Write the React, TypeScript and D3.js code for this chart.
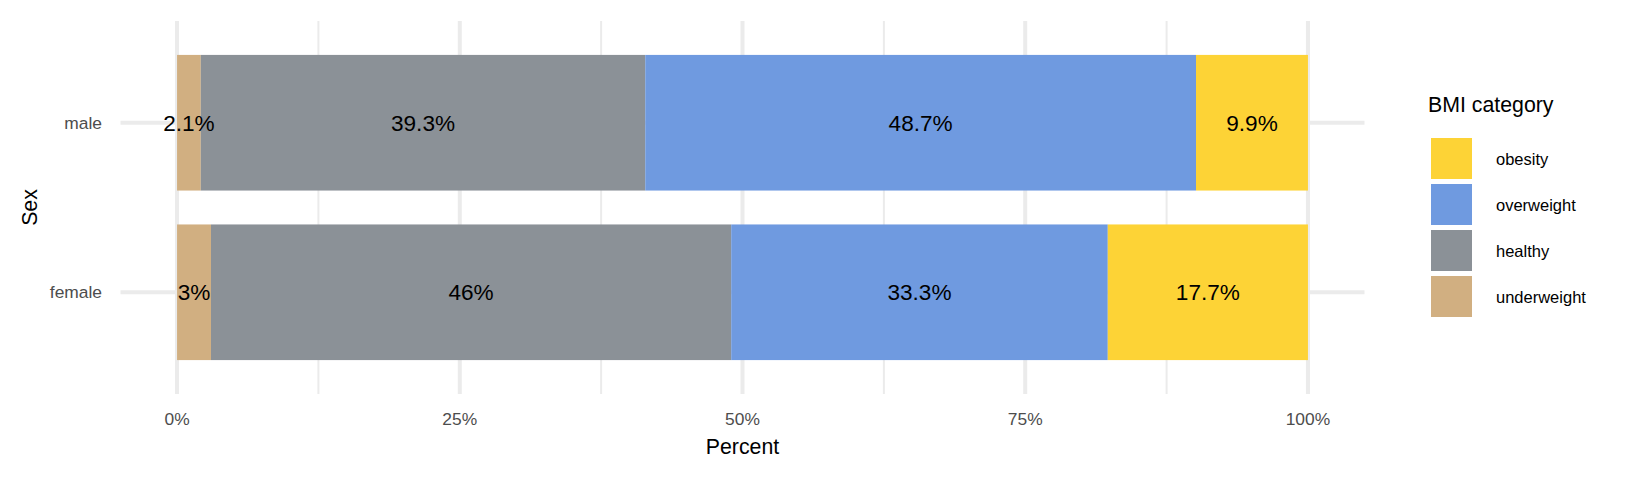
import React from 'react';
import * as d3 from 'd3';

const sexes = ['male', 'female'];
const categories = ['underweight', 'healthy', 'overweight', 'obesity'];
const legendOrder = ['obesity', 'overweight', 'healthy', 'underweight'];
const colors = ['#D1AF81', '#8B9197', '#6F9AE0', '#FDD336'];

const maleValues = [2.1, 39.3, 48.7, 9.9];
const femaleValues = [3, 46, 33.3, 17.7];
const valueLabels = [
  ['2.1%', '39.3%', '48.7%', '9.9%'],
  ['3%', '46%', '33.3%', '17.7%'],
];

const majorTicks = [0, 25, 50, 75, 100];
const minorTicks = [12.5, 37.5, 62.5, 87.5];
const tickLabels = ['0%', '25%', '50%', '75%', '100%'];

const W = 1632;
const H = 480;
const FONT = '"Liberation Sans", Arial, sans-serif';

interface Row {
  sex: string;
  [key: string]: number | string;
}

const rows: Row[] = sexes.map((sex, i) => {
  const vals = i === 0 ? maleValues : femaleValues;
  const r: Row = { sex };
  categories.forEach((c, j) => (r[c] = vals[j]));
  return r;
});

export default function App() {
  if (typeof document !== 'undefined') document.body.style.margin = '0';

  const x = d3.scaleLinear().domain([-5, 105]).range([120.5, 1364.5]);
  const y = d3.scaleBand<string>().domain(sexes).range([21, 394]).paddingInner(0.2).paddingOuter(0.2);
  const color = d3.scaleOrdinal<string, string>().domain(categories).range(colors);

  const stack = d3.stack<Row>().keys(categories).value((d, k) => d[k] as number);
  const series = stack(rows);

  const [panelTop, panelBottom] = [21, 394];
  const [panelLeft, panelRight] = x.range();
  const labelSize = 22.6;

  return (
    <svg width={W} height={H} style={{ display: 'block', fontFamily: FONT }}>
      <rect width={W} height={H} fill="#fff" />

      {/* grid */}
      {minorTicks.map(t => (
        <line key={'mi' + t} x1={x(t)} x2={x(t)} y1={panelTop} y2={panelBottom} stroke="#EBEBEB" strokeWidth={2} />
      ))}
      {majorTicks.map(t => (
        <line key={'ma' + t} x1={x(t)} x2={x(t)} y1={panelTop} y2={panelBottom} stroke="#EBEBEB" strokeWidth={4} />
      ))}
      {sexes.map(s => {
        const cy = (y(s) as number) + y.bandwidth() / 2;
        return <line key={'h' + s} x1={panelLeft} x2={panelRight} y1={cy} y2={cy} stroke="#EBEBEB" strokeWidth={4} />;
      })}

      {/* bars */}
      {series.map(ser => (
        <g key={ser.key} fill={color(ser.key)}>
          {ser.map((d, i) => (
            <rect
              key={i}
              x={x(d[0])}
              width={x(d[1]) - x(d[0])}
              y={y(d.data.sex)}
              height={y.bandwidth()}
            />
          ))}
        </g>
      ))}

      {/* value labels */}
      {series.map((ser, j) =>
        ser.map((d, i) => (
          <text
            key={ser.key + i}
            x={x((d[0] + d[1]) / 2)}
            y={(y(d.data.sex) as number) + y.bandwidth() / 2 + labelSize * 0.358}
            textAnchor="middle"
            fontSize={labelSize}
            fill="#000"
          >
            {valueLabels[i][j]}
          </text>
        ))
      )}

      {/* y axis */}
      {sexes.map(s => (
        <text
          key={'yl' + s}
          x={102}
          y={(y(s) as number) + y.bandwidth() / 2 + 6.2}
          textAnchor="end"
          fontSize={17.4}
          fill="#4D4D4D"
        >
          {s}
        </text>
      ))}
      <text
        transform={`translate(36.5,${(panelTop + panelBottom) / 2}) rotate(-90)`}
        textAnchor="middle"
        fontSize={21.3}
        fill="#000"
      >
        Sex
      </text>

      {/* x axis */}
      {majorTicks.map((t, i) => (
        <text key={'xl' + t} x={x(t)} y={425.3} textAnchor="middle" fontSize={17.4} fill="#4D4D4D">
          {tickLabels[i]}
        </text>
      ))}
      <text x={(panelLeft + panelRight) / 2} y={454} textAnchor="middle" fontSize={21.3} fill="#000">
        Percent
      </text>

      {/* legend */}
      <text x={1428} y={112} fontSize={21.3} fill="#000">
        BMI category
      </text>
      {legendOrder.map((c, i) => (
        <g key={'lg' + c} transform={`translate(1431,${138 + i * 46})`}>
          <rect width={41} height={41} fill={color(c)} />
          <text x={65} y={20.5 + 6} fontSize={16.5} fill="#000">
            {c}
          </text>
        </g>
      ))}
    </svg>
  );
}
